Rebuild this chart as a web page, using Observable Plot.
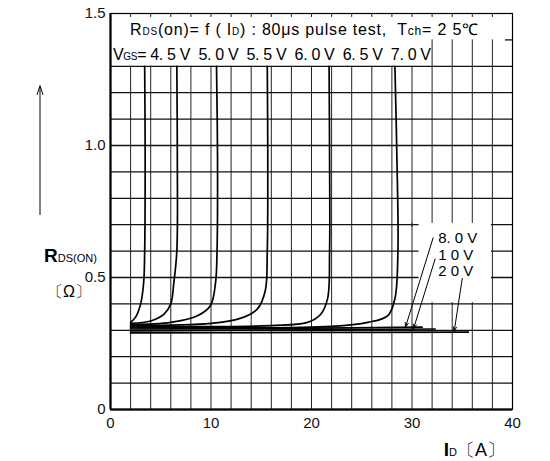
<!DOCTYPE html>
<html><head><meta charset="utf-8">
<script src="https://cdn.jsdelivr.net/npm/d3@7"></script>
<script src="https://cdn.jsdelivr.net/npm/@observablehq/plot@0.6"></script>
<style>html,body{margin:0;padding:0;background:#fff}</style>
</head><body><div id="chart"></div>
<script>
// ---- data ----
const xTicks = [0, 10, 20, 30, 40];
const yTicks = [0, 0.5, 1.0, 1.5];
const gridX = d3.range(0, 41, 2);
const gridY = d3.range(0, 14).map(i => i / 10);   // 0 .. 1.3
const vgsLow = ["4.5V", "5.0V", "5.5V", "6.0V", "6.5V", "7.0V"];
const curve45 = [[2,0.33],[2.5,0.35],[3.0,0.40],[3.3,0.48],[3.4,0.60],[3.45,0.95],[3.4,1.3]];
const curve50 = [[2,0.326],[4,0.335],[5.3,0.36],[6.0,0.40],[6.3,0.48],[6.6,0.60],[6.65,0.95],[6.6,1.3]];
const curve55 = [[2,0.322],[6,0.33],[8.7,0.356],[9.95,0.394],[10.45,0.48],[10.6,0.60],[10.65,0.95],[10.55,1.3]];
const curve60 = [[2,0.318],[10,0.326],[12.9,0.345],[14.6,0.38],[15.4,0.45],[15.6,0.60],[15.65,0.95],[15.6,1.3]];
const curve65 = [[2,0.314],[16,0.318],[19.6,0.33],[20.9,0.36],[21.6,0.42],[21.8,0.60],[21.8,0.95],[21.75,1.3]];
const curve70 = [[2,0.31],[22,0.315],[25.6,0.33],[27.6,0.356],[28.3,0.42],[28.6,0.60],[28.5,0.95],[28.3,1.3]];
const curve80 = [[2,0.305],[20,0.308],[31,0.312]];
const curve10 = [[2,0.298],[20,0.302],[32.3,0.305]];
const curve20 = [[2,0.29],[20,0.292],[35.6,0.293]];
const highLabels = ["8. 0 V", "1 0 V", "2 0 V"];
const highLabelY = [0.65, 0.585, 0.525];
const arrowFrom = [[32.1,0.65],[32.3,0.57],[35.0,0.496]];
const arrowTo = [[29.35,0.312],[30.15,0.306],[34.2,0.296]];
const labelBox = [[30.7, 37.9, 0.405, 0.705]];

const curves = [curve45, curve50, curve55, curve60, curve65, curve70, curve80, curve10, curve20];
const lineData = curves.flatMap((c, i) => c.map(([x, y]) => ({x, y, s: i})));
const arrows = arrowFrom.map((f, i) => ({x1: f[0], y1: f[1], x2: arrowTo[i][0], y2: arrowTo[i][1]}));
const labels = highLabels.map((t, i) => ({t, x: 32.6, y: highLabelY[i]}));

const font = "'Liberation Sans', Arial, sans-serif";
const plot = Plot.plot({
  width: 550, height: 461,
  marginLeft: 110, marginRight: 38, marginTop: 13, marginBottom: 52,
  x: {domain: [0, 40]},
  y: {domain: [0, 1.5]},
  style: {fontFamily: font, background: "white", color: "#111"},
  marks: [
    Plot.ruleX(gridX, {x: d => d, y1: 0, y2: d => d >= 32 ? 1.4 : 1.3, stroke: "#222", strokeWidth: 1, strokeOpacity: 1}),
    Plot.ruleX(gridX, {x: d => d, y1: 1.485, y2: 1.5, stroke: "#222", strokeWidth: 1}),
    Plot.ruleY(gridY, {y: d => d, stroke: "#111", strokeWidth: 1.3}),
    Plot.ruleY([1.4], {x1: 39.3, x2: 40, stroke: "#111", strokeWidth: 1.3}),
    Plot.rect(labelBox, {x1: d => d[0], x2: d => d[1], y1: d => d[2], y2: d => d[3], fill: "white"}),
    Plot.ruleX([30], {y1: 0.69, y2: 0.705, stroke: "#222"}),
    Plot.line(lineData, {x: "x", y: "y", z: "s", curve: "catmull-rom", stroke: "#000", strokeWidth: 1.7}),
    Plot.arrow(arrows, {x1: "x1", y1: "y1", x2: "x2", y2: "y2", stroke: "#000", strokeWidth: 1, headLength: 7, headAngle: 40}),
    Plot.text(labels, {x: "x", y: "y", text: "t", textAnchor: "start", fontSize: 15, fill: "#000"}),
    Plot.frame({stroke: "#000", strokeWidth: 1.2}),
    Plot.ruleX([0], {stroke: "#000", strokeWidth: 2.2}),
    Plot.ruleY([0], {stroke: "#000", strokeWidth: 2.2}),
    Plot.axisX(xTicks, {tickSize: 0, tickPadding: 8, fontSize: 15, tickFormat: d => String(d)}),
    Plot.axisY(yTicks, {tickSize: 0, tickPadding: 5, fontSize: 15, tickFormat: d => d === 0 ? "0" : d.toFixed(1)})
  ]
});
document.getElementById("chart").appendChild(plot);

// ---- annotations with subscripts, positioned through the plot's scales ----
const sx = plot.scale("x"), sy = plot.scale("y");
const svg = d3.select(plot);
function rich(x, y, parts, opts = {}) {
  const t = svg.append("text").attr("x", x).attr("y", y)
    .attr("font-family", font).attr("fill", "#000").attr("font-size", opts.size || 15)
    .attr("text-anchor", opts.anchor || "start");
  if (opts.len) t.attr("textLength", opts.len).attr("lengthAdjust", "spacing");
  parts.forEach(p => {
    const ts = t.append("tspan").text(p[0]);
    if (p[1]) ts.attr("font-size", p[1]);
    if (p[2]) ts.attr("font-weight", p[2]);
  });
  return t;
}
const titleLine = [["R"],["DS", 10],["(on)= f ( I"],["D", 10],[") : 80\u03bcs pulse test,  T"],["ch", 12],["= 2 5\u2103"]];
rich(sx.apply(2), sy.apply(1.418), titleLine, {size: 16, len: 348});
const vgsLine = [["V"],["GS", 10],["= 4. 5 V  5. 0 V  5. 5 V  6. 0 V  6. 5 V  7. 0 V"]];
rich(sx.apply(0) + 3, sy.apply(1.322), vgsLine, {size: 16, len: 318});

// y-axis title with arrow
const yAxX = sx.apply(0);
rich(yAxX - 66, sy.apply(0.555), [["R", 19, "bold"],["DS(ON)", 11]], {});
rich(yAxX - 63, sy.apply(0.425), [["\u3014\u03a9\u3015", 16]], {});
svg.append("line").attr("x1", yAxX - 70).attr("x2", yAxX - 70)
  .attr("y1", sy.apply(0.735)).attr("y2", sy.apply(1.22)).attr("stroke", "#000").attr("stroke-width", 1);
svg.append("path").attr("d", `M${yAxX-73},${sy.apply(1.19)} L${yAxX-70},${sy.apply(1.225)} L${yAxX-67},${sy.apply(1.19)}`)
  .attr("fill", "none").attr("stroke", "#000").attr("stroke-width", 1);
// x-axis title
rich(sx.apply(33.2), 456, [["I", 19, "bold"],["D", 11],["\u3014A\u3015", 18]], {});
</script></body></html>
